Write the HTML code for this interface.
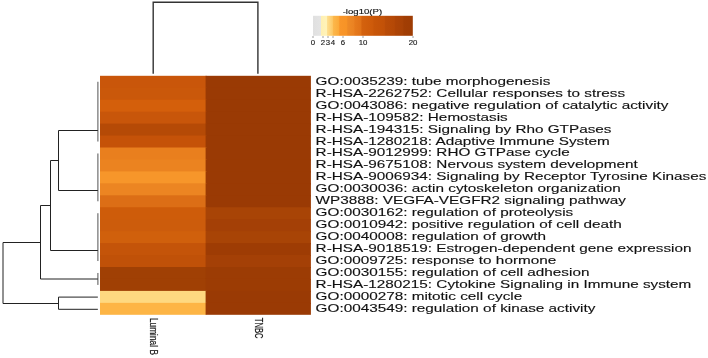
<!DOCTYPE html><html><head><meta charset="utf-8"><style>html,body{margin:0;padding:0;background:#fff;width:708px;height:358px;overflow:hidden}svg{display:block;will-change:transform}text{font-family:"Liberation Sans",sans-serif}</style></head><body>
<svg width="708" height="358" viewBox="0 0 708 358">
<rect x="100.0" y="75.80" width="106.6" height="12.95" fill="#C9560A"/>
<rect x="205.6" y="75.80" width="105.3" height="12.95" fill="#9A3A04"/>
<rect x="100.0" y="87.75" width="106.6" height="12.95" fill="#CA580A"/>
<rect x="205.6" y="87.75" width="105.3" height="12.95" fill="#9A3A04"/>
<rect x="100.0" y="99.70" width="106.6" height="12.95" fill="#D45F0B"/>
<rect x="205.6" y="99.70" width="105.3" height="12.95" fill="#9A3A04"/>
<rect x="100.0" y="111.65" width="106.6" height="12.95" fill="#C8560A"/>
<rect x="205.6" y="111.65" width="105.3" height="12.95" fill="#9A3A04"/>
<rect x="100.0" y="123.60" width="106.6" height="12.95" fill="#B54A06"/>
<rect x="205.6" y="123.60" width="105.3" height="12.95" fill="#9A3A04"/>
<rect x="100.0" y="135.55" width="106.6" height="12.95" fill="#C55208"/>
<rect x="205.6" y="135.55" width="105.3" height="12.95" fill="#9A3A04"/>
<rect x="100.0" y="147.50" width="106.6" height="12.95" fill="#E97F1E"/>
<rect x="205.6" y="147.50" width="105.3" height="12.95" fill="#9A3A04"/>
<rect x="100.0" y="159.45" width="106.6" height="12.95" fill="#EB8320"/>
<rect x="205.6" y="159.45" width="105.3" height="12.95" fill="#9A3A04"/>
<rect x="100.0" y="171.40" width="106.6" height="12.95" fill="#F7962A"/>
<rect x="205.6" y="171.40" width="105.3" height="12.95" fill="#9A3A04"/>
<rect x="100.0" y="183.35" width="106.6" height="12.95" fill="#EC8522"/>
<rect x="205.6" y="183.35" width="105.3" height="12.95" fill="#9A3A04"/>
<rect x="100.0" y="195.30" width="106.6" height="12.95" fill="#DC6E16"/>
<rect x="205.6" y="195.30" width="105.3" height="12.95" fill="#9A3A04"/>
<rect x="100.0" y="207.25" width="106.6" height="12.95" fill="#CE5C0A"/>
<rect x="205.6" y="207.25" width="105.3" height="12.95" fill="#A84406"/>
<rect x="100.0" y="219.20" width="106.6" height="12.95" fill="#CC5C0C"/>
<rect x="205.6" y="219.20" width="105.3" height="12.95" fill="#A44006"/>
<rect x="100.0" y="231.15" width="106.6" height="12.95" fill="#D0600C"/>
<rect x="205.6" y="231.15" width="105.3" height="12.95" fill="#A84406"/>
<rect x="100.0" y="243.10" width="106.6" height="12.95" fill="#C45409"/>
<rect x="205.6" y="243.10" width="105.3" height="12.95" fill="#9E3C04"/>
<rect x="100.0" y="255.05" width="106.6" height="12.95" fill="#C05108"/>
<rect x="205.6" y="255.05" width="105.3" height="12.95" fill="#A44006"/>
<rect x="100.0" y="267.00" width="106.6" height="12.95" fill="#A04004"/>
<rect x="205.6" y="267.00" width="105.3" height="12.95" fill="#9C3C04"/>
<rect x="100.0" y="278.95" width="106.6" height="12.95" fill="#A04004"/>
<rect x="205.6" y="278.95" width="105.3" height="12.95" fill="#9C3C04"/>
<rect x="100.0" y="290.90" width="106.6" height="12.95" fill="#FED980"/>
<rect x="205.6" y="290.90" width="105.3" height="12.95" fill="#9A3A04"/>
<rect x="100.0" y="302.85" width="106.6" height="11.95" fill="#FDB545"/>
<rect x="205.6" y="302.85" width="105.3" height="11.95" fill="#9A3A04"/>
<path d="M153.2 73.7 V2.3 H257.9 V73.7" fill="none" stroke="#333" stroke-width="1.4"/>
<rect x="97.1" y="81.77" width="1.5" height="59.75" fill="#8c8c8c"/>
<rect x="97.1" y="153.47" width="1.5" height="47.80" fill="#8c8c8c"/>
<rect x="97.1" y="213.22" width="1.5" height="47.80" fill="#8c8c8c"/>
<rect x="97.1" y="272.97" width="1.5" height="11.95" fill="#8c8c8c"/>
<path d="M97.85 130.5 H58.5 V190.5 H97.85" fill="none" stroke="#222" stroke-width="1"/>
<path d="M58.5 160.5 H50.5 V250.5 H97.85" fill="none" stroke="#222" stroke-width="1"/>
<path d="M50.5 205.5 H40.5 V279.0 H97.85" fill="none" stroke="#222" stroke-width="1"/>
<path d="M97.85 297.1 H58.5 V309.3 H97.85" fill="none" stroke="#222" stroke-width="1"/>
<path d="M40.5 242.5 H3 V303.5 H58.5" fill="none" stroke="#222" stroke-width="1"/>
<text transform="translate(315.6 84.77) scale(1.471 1)" font-size="10.4" fill="#111" stroke="#111" stroke-width="0.12">GO:0035239: tube morphogenesis</text>
<text transform="translate(315.6 96.72) scale(1.471 1)" font-size="10.4" fill="#111" stroke="#111" stroke-width="0.12">R-HSA-2262752: Cellular responses to stress</text>
<text transform="translate(315.6 108.67) scale(1.471 1)" font-size="10.4" fill="#111" stroke="#111" stroke-width="0.12">GO:0043086: negative regulation of catalytic activity</text>
<text transform="translate(315.6 120.62) scale(1.471 1)" font-size="10.4" fill="#111" stroke="#111" stroke-width="0.12">R-HSA-109582: Hemostasis</text>
<text transform="translate(315.6 132.57) scale(1.471 1)" font-size="10.4" fill="#111" stroke="#111" stroke-width="0.12">R-HSA-194315: Signaling by Rho GTPases</text>
<text transform="translate(315.6 144.52) scale(1.471 1)" font-size="10.4" fill="#111" stroke="#111" stroke-width="0.12">R-HSA-1280218: Adaptive Immune System</text>
<text transform="translate(315.6 156.47) scale(1.471 1)" font-size="10.4" fill="#111" stroke="#111" stroke-width="0.12">R-HSA-9012999: RHO GTPase cycle</text>
<text transform="translate(315.6 168.43) scale(1.471 1)" font-size="10.4" fill="#111" stroke="#111" stroke-width="0.12">R-HSA-9675108: Nervous system development</text>
<text transform="translate(315.6 180.38) scale(1.471 1)" font-size="10.4" fill="#111" stroke="#111" stroke-width="0.12">R-HSA-9006934: Signaling by Receptor Tyrosine Kinases</text>
<text transform="translate(315.6 192.32) scale(1.471 1)" font-size="10.4" fill="#111" stroke="#111" stroke-width="0.12">GO:0030036: actin cytoskeleton organization</text>
<text transform="translate(315.6 204.27) scale(1.471 1)" font-size="10.4" fill="#111" stroke="#111" stroke-width="0.12">WP3888: VEGFA-VEGFR2 signaling pathway</text>
<text transform="translate(315.6 216.22) scale(1.471 1)" font-size="10.4" fill="#111" stroke="#111" stroke-width="0.12">GO:0030162: regulation of proteolysis</text>
<text transform="translate(315.6 228.18) scale(1.471 1)" font-size="10.4" fill="#111" stroke="#111" stroke-width="0.12">GO:0010942: positive regulation of cell death</text>
<text transform="translate(315.6 240.12) scale(1.471 1)" font-size="10.4" fill="#111" stroke="#111" stroke-width="0.12">GO:0040008: regulation of growth</text>
<text transform="translate(315.6 252.07) scale(1.471 1)" font-size="10.4" fill="#111" stroke="#111" stroke-width="0.12">R-HSA-9018519: Estrogen-dependent gene expression</text>
<text transform="translate(315.6 264.02) scale(1.471 1)" font-size="10.4" fill="#111" stroke="#111" stroke-width="0.12">GO:0009725: response to hormone</text>
<text transform="translate(315.6 275.97) scale(1.471 1)" font-size="10.4" fill="#111" stroke="#111" stroke-width="0.12">GO:0030155: regulation of cell adhesion</text>
<text transform="translate(315.6 287.93) scale(1.471 1)" font-size="10.4" fill="#111" stroke="#111" stroke-width="0.12">R-HSA-1280215: Cytokine Signaling in Immune system</text>
<text transform="translate(315.6 299.88) scale(1.471 1)" font-size="10.4" fill="#111" stroke="#111" stroke-width="0.12">GO:0000278: mitotic cell cycle</text>
<text transform="translate(315.6 311.82) scale(1.471 1)" font-size="10.4" fill="#111" stroke="#111" stroke-width="0.12">GO:0043549: regulation of kinase activity</text>
<defs><linearGradient id="cb" x1="0" x2="1" y1="0" y2="0">
<stop offset="0.0000" stop-color="#E0E0E0"/>
<stop offset="0.0750" stop-color="#E4E4E4"/>
<stop offset="0.0825" stop-color="#FFF0B2"/>
<stop offset="0.1350" stop-color="#FFF3BA"/>
<stop offset="0.1425" stop-color="#FEDF90"/>
<stop offset="0.1950" stop-color="#FDC866"/>
<stop offset="0.2025" stop-color="#FCB84C"/>
<stop offset="0.2600" stop-color="#FBAA3A"/>
<stop offset="0.2675" stop-color="#F9962A"/>
<stop offset="0.3400" stop-color="#F79326"/>
<stop offset="0.3475" stop-color="#EE8A26"/>
<stop offset="0.4100" stop-color="#EA8222"/>
<stop offset="0.4200" stop-color="#E67A1C"/>
<stop offset="0.4800" stop-color="#E07218"/>
<stop offset="0.4900" stop-color="#D4620E"/>
<stop offset="0.6000" stop-color="#CD5A0A"/>
<stop offset="0.6100" stop-color="#C85608"/>
<stop offset="0.7150" stop-color="#C25108"/>
<stop offset="0.7250" stop-color="#BA4C08"/>
<stop offset="0.8150" stop-color="#B44806"/>
<stop offset="0.8250" stop-color="#AE4406"/>
<stop offset="0.9000" stop-color="#A84206"/>
<stop offset="0.9100" stop-color="#A23E04"/>
<stop offset="1.0000" stop-color="#9E3C04"/>
</linearGradient></defs>
<rect x="313" y="15.8" width="99.8" height="20" fill="url(#cb)"/>
<rect x="312.60" y="36" width="0.8" height="2" fill="#888"/>
<text transform="translate(313.00 44.6) scale(1.12 1)" font-size="7" text-anchor="middle" fill="#222" stroke="#222" stroke-width="0.15">0</text>
<rect x="322.60" y="36" width="0.8" height="2" fill="#888"/>
<text transform="translate(323.00 44.6) scale(1.12 1)" font-size="7" text-anchor="middle" fill="#222" stroke="#222" stroke-width="0.15">2</text>
<rect x="327.60" y="36" width="0.8" height="2" fill="#888"/>
<text transform="translate(328.00 44.6) scale(1.12 1)" font-size="7" text-anchor="middle" fill="#222" stroke="#222" stroke-width="0.15">3</text>
<rect x="332.60" y="36" width="0.8" height="2" fill="#888"/>
<text transform="translate(333.00 44.6) scale(1.12 1)" font-size="7" text-anchor="middle" fill="#222" stroke="#222" stroke-width="0.15">4</text>
<rect x="342.60" y="36" width="0.8" height="2" fill="#888"/>
<text transform="translate(343.00 44.6) scale(1.12 1)" font-size="7" text-anchor="middle" fill="#222" stroke="#222" stroke-width="0.15">6</text>
<rect x="362.60" y="36" width="0.8" height="2" fill="#888"/>
<text transform="translate(363.00 44.6) scale(1.12 1)" font-size="7" text-anchor="middle" fill="#222" stroke="#222" stroke-width="0.15">10</text>
<rect x="412.60" y="36" width="0.8" height="2" fill="#888"/>
<text transform="translate(413.00 44.6) scale(1.12 1)" font-size="7" text-anchor="middle" fill="#222" stroke="#222" stroke-width="0.15">20</text>
<text transform="translate(362.4 13.5) scale(1.2 1)" font-size="8" text-anchor="middle" fill="#111" stroke="#111" stroke-width="0.15">-log10(P)</text>
<text transform="translate(150.3 317.9) rotate(90) scale(1 1.24)" font-size="8.35" fill="#111" stroke="#111" stroke-width="0.15">Luminal B</text>
<text transform="translate(255.3 317.8) rotate(90) scale(1 1.4)" font-size="7.6" fill="#111" stroke="#111" stroke-width="0.15">TNBC</text>
</svg></body></html>
